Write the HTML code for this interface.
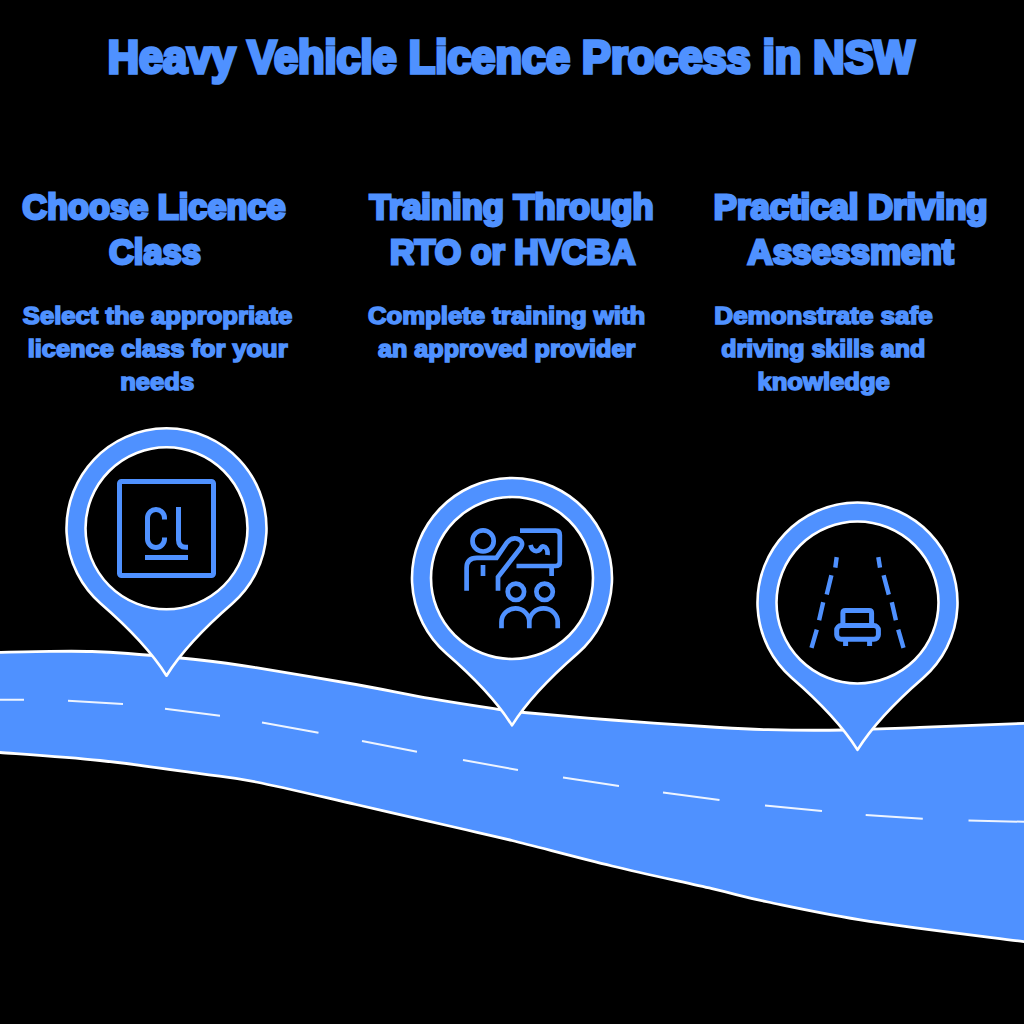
<!DOCTYPE html>
<html><head><meta charset="utf-8"><title>Heavy Vehicle Licence Process in NSW</title>
<style>html,body{margin:0;padding:0;background:#000;}body{width:1024px;height:1024px;overflow:hidden;font-family:"Liberation Sans",sans-serif;}svg{display:block}</style>
</head><body>
<svg width="1024" height="1024" viewBox="0 0 1024 1024">
<rect width="1024" height="1024" fill="#000"/>
<path d="M-20.0 652.9C-16.7 652.8 -11.7 652.6 0.0 652.4C11.7 652.1 34.7 651.5 50.0 651.4C65.3 651.2 79.0 651.1 92.0 651.5C105.0 651.9 110.0 652.1 128.0 653.5C146.0 654.9 178.7 657.6 200.0 660.0C221.3 662.4 230.0 663.6 256.0 667.7C282.0 671.8 326.8 679.3 356.0 684.5C385.2 689.7 408.0 694.7 431.0 698.7C454.0 702.7 478.5 706.4 494.0 708.7C509.5 711.0 504.3 710.6 524.0 712.5C543.7 714.4 580.7 717.6 612.0 720.0C643.3 722.4 686.0 725.4 712.0 727.0C738.0 728.6 746.0 729.2 768.0 729.7C790.0 730.2 818.7 730.4 844.0 730.0C869.3 729.6 890.0 728.5 920.0 727.4C950.0 726.3 1003.3 724.2 1024.0 723.4C1044.7 722.6 1040.7 722.6 1044.0 722.4L1044 944C1040.7 943.6 1053.1 945.4 1024.0 941.6C994.9 937.8 912.2 927.9 869.5 921.3C826.8 914.7 794.2 907.4 768.0 902.0C741.8 896.6 738.0 894.7 712.0 888.7C686.0 882.7 645.3 874.0 612.0 866.0C578.7 858.0 538.0 846.9 512.0 840.5C486.0 834.1 482.0 833.5 456.0 827.5C430.0 821.5 389.3 812.1 356.0 804.5C322.7 796.9 282.0 787.1 256.0 782.0C230.0 776.9 226.0 777.3 200.0 773.7C174.0 770.1 133.3 764.0 100.0 760.5C66.7 757.0 20.0 754.0 0.0 752.5C-20.0 751.0 -16.7 751.7 -20.0 751.5Z" fill="#4f91ff" stroke="#fff" stroke-width="2.8"/>
<path d="M-10 699.7L24 699.8M68 700.7L123 704M165 708.7L220 715.7M262 722.5L318.5 732.7M362 741L417 751.7M463 760L518 770M563 777.5L619 786M663 792.5L719.5 800M765 805.5L822 811M865.7 815L922.8 818.8M968.5 820.6L1030 821.9" fill="none" stroke="#fff" stroke-width="2" opacity="0.9"/>
<path d="M166.5 675.7C154.8 657.0 131.1 630.0 100.9 603.8A100.0 100.0 0 1 1 232.1 603.8C201.9 630.0 178.2 657.0 166.5 675.7Z" fill="#4f91ff" stroke="#fff" stroke-width="2.6" stroke-linejoin="round"/><circle cx="166.5" cy="528.3" r="81.0" fill="#000" stroke="#fff" stroke-width="2.6"/>
<path d="M512.0 725.4C500.3 706.7 476.6 679.7 446.4 653.5A100.0 100.0 0 1 1 577.6 653.5C547.4 679.7 523.7 706.7 512.0 725.4Z" fill="#4f91ff" stroke="#fff" stroke-width="2.6" stroke-linejoin="round"/><circle cx="512" cy="578" r="81.0" fill="#000" stroke="#fff" stroke-width="2.6"/>
<path d="M857.5 749.9C845.8 731.2 822.1 704.2 791.9 678.0A100.0 100.0 0 1 1 923.1 678.0C892.9 704.2 869.2 731.2 857.5 749.9Z" fill="#4f91ff" stroke="#fff" stroke-width="2.6" stroke-linejoin="round"/><circle cx="857.5" cy="602.5" r="81.0" fill="#000" stroke="#fff" stroke-width="2.6"/>
<g fill="none" stroke="#4f91ff" stroke-width="5">
<rect x="119.5" y="481.5" width="94" height="94" rx="2"/>
<path d="M164.5 519.5V518A8.5 8.5 0 0 0 147.5 518V539A8.5 8.5 0 0 0 164.5 539V537.5"/>
<path d="M178.5 507V540Q178.5 547.3 186 547.3H188"/>
<path d="M145 557.5H188"/>
</g>
<g fill="none" stroke="#4f91ff" stroke-width="4.7">
<circle cx="483.1" cy="540.9" r="10.6"/>
<path d="M466.6 590.7V568Q466.6 557.8 477 557.8H496.5L507 542.5Q511 537.5 516.5 538.5Q524.5 541 521 547.5L498 577V590.7"/>
<path d="M483 565V576"/>
<path d="M520 530.7H555.5Q559.8 530.7 559.8 535V562Q559.8 566 555.5 566H516.5M551.6 566V576"/>
<path d="M530.5 545Q532 551.5 537 551Q540 550.5 541 547.5Q542 545.5 545 547Q548 549 547.5 555"/>
<circle cx="515.9" cy="591.8" r="8.2"/>
<circle cx="544.6" cy="591.8" r="8.2"/>
<path d="M501.5 628.2V622A13.9 13.6 0 0 1 529.3 622V628.2M529.3 622A14.2 13.6 0 0 1 557.7 622V628.2"/>
</g>
<g fill="none" stroke="#4f91ff" stroke-width="5">
<path stroke-width="4.4" d="M836.7 557.1L835.3 567.6M831.4 575.2L826.7 594.6M823.2 602.2L819.1 620.3M816.8 629.7L811.5 647.9"/>
<path stroke-width="4.4" d="M878.3 557.1L880 567.6M883.6 575.2L888.8 594.6M891.8 602.2L895.9 620.3M898.2 629.7L903.5 647.9"/>
<path d="M842.9 625.6V613Q842.9 610.6 845.3 610.6H869.2Q871.6 610.6 871.6 613V625.6"/>
<rect x="836.7" y="625.6" width="41.7" height="13.7" rx="4.5"/>
<path d="M845.6 641V645.9M869.6 641V645.9"/>
</g>
<g font-family="Liberation Sans, sans-serif" font-weight="bold" fill="#4f91ff" stroke="#4f91ff" stroke-linejoin="miter" stroke-miterlimit="2"><text x="511.0" y="0" transform="translate(0 73.1) scale(1 1.06)" text-anchor="middle" font-size="43.4" textLength="806.6" lengthAdjust="spacingAndGlyphs" stroke-width="3.4">Heavy Vehicle Licence Process in NSW</text>
<text x="154.0" y="0" transform="translate(0 219.2) scale(1 1.0)" text-anchor="middle" font-size="34.4" textLength="263.3" lengthAdjust="spacingAndGlyphs" stroke-width="2.8">Choose Licence</text>
<text x="154.9" y="0" transform="translate(0 264.0) scale(1 1.0)" text-anchor="middle" font-size="34.4" textLength="91.8" lengthAdjust="spacingAndGlyphs" stroke-width="2.8">Class</text>
<text x="511.5" y="0" transform="translate(0 219.2) scale(1 1.0)" text-anchor="middle" font-size="34.4" textLength="284.0" lengthAdjust="spacingAndGlyphs" stroke-width="2.8">Training Through</text>
<text x="512.7" y="0" transform="translate(0 264.0) scale(1 1.0)" text-anchor="middle" font-size="34.4" textLength="245.6" lengthAdjust="spacingAndGlyphs" stroke-width="2.8">RTO or HVCBA</text>
<text x="850.7" y="0" transform="translate(0 219.2) scale(1 1.0)" text-anchor="middle" font-size="34.4" textLength="273.7" lengthAdjust="spacingAndGlyphs" stroke-width="2.8">Practical Driving</text>
<text x="850.5" y="0" transform="translate(0 264.0) scale(1 1.0)" text-anchor="middle" font-size="34.4" textLength="206.2" lengthAdjust="spacingAndGlyphs" stroke-width="2.8">Assessment</text>
<text x="157.5" y="0" transform="translate(0 323.6) scale(1 0.96)" text-anchor="middle" font-size="25.4" textLength="269.4" lengthAdjust="spacingAndGlyphs" stroke-width="1.7">Select the appropriate</text>
<text x="157.6" y="0" transform="translate(0 356.6) scale(1 0.96)" text-anchor="middle" font-size="25.4" textLength="259.9" lengthAdjust="spacingAndGlyphs" stroke-width="1.7">licence class for your</text>
<text x="157.2" y="0" transform="translate(0 389.6) scale(1 0.96)" text-anchor="middle" font-size="25.4" textLength="73.9" lengthAdjust="spacingAndGlyphs" stroke-width="1.7">needs</text>
<text x="506.6" y="0" transform="translate(0 323.6) scale(1 0.96)" text-anchor="middle" font-size="25.4" textLength="277.3" lengthAdjust="spacingAndGlyphs" stroke-width="1.7">Complete training with</text>
<text x="506.6" y="0" transform="translate(0 356.6) scale(1 0.96)" text-anchor="middle" font-size="25.4" textLength="257.2" lengthAdjust="spacingAndGlyphs" stroke-width="1.7">an approved provider</text>
<text x="823.5" y="0" transform="translate(0 323.6) scale(1 0.96)" text-anchor="middle" font-size="25.4" textLength="218.3" lengthAdjust="spacingAndGlyphs" stroke-width="1.7">Demonstrate safe</text>
<text x="823.3" y="0" transform="translate(0 356.6) scale(1 0.96)" text-anchor="middle" font-size="25.4" textLength="203.9" lengthAdjust="spacingAndGlyphs" stroke-width="1.7">driving skills and</text>
<text x="823.6" y="0" transform="translate(0 389.6) scale(1 0.96)" text-anchor="middle" font-size="25.4" textLength="132.4" lengthAdjust="spacingAndGlyphs" stroke-width="1.7">knowledge</text></g>
</svg>
</body></html>
